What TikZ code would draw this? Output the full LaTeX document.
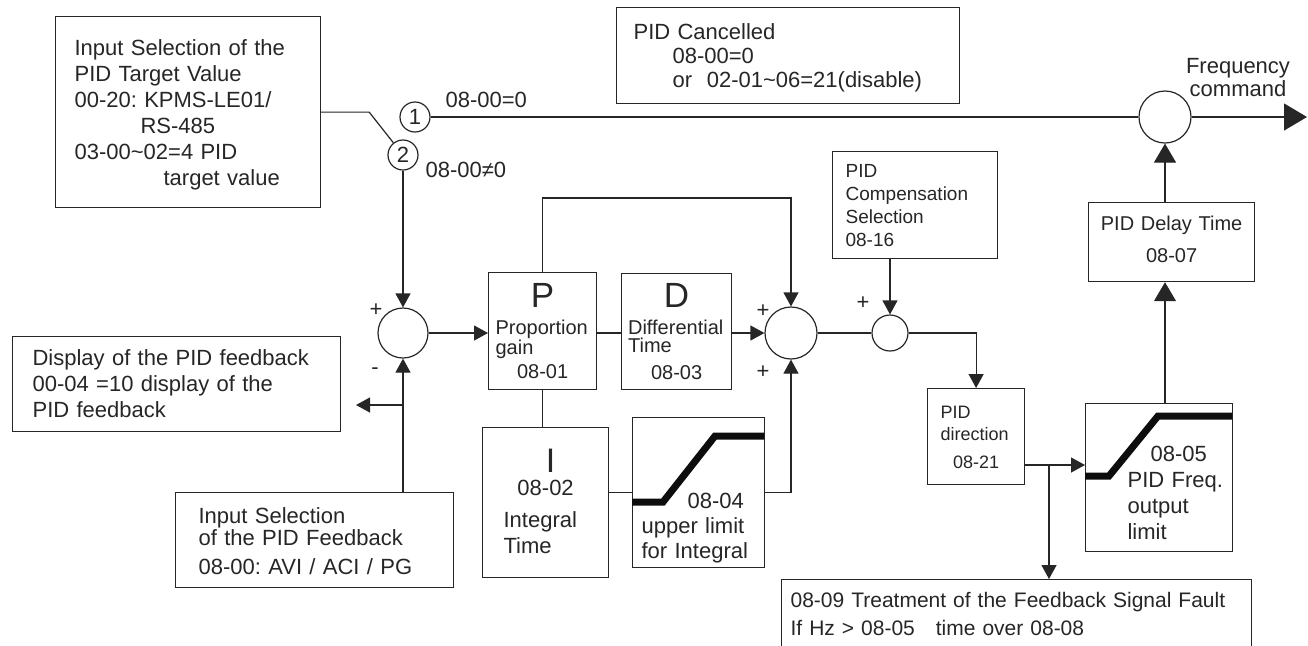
\documentclass[tikz,border=0pt]{standalone}
\usepackage{fontspec}
\setmainfont{Liberation Sans}
\usetikzlibrary{arrows.meta,positioning}
\frenchspacing
\newcommand\tgap[1]{\rule{0pt}{#1}}
\newcommand\bgap[1]{\rule[-#1]{0pt}{#1}}
\newcommand\ctr[1]{\makebox[\linewidth]{#1}}
\begin{document}
\begin{tikzpicture}[x=0.5pt,y=-0.5pt,line width=0.6pt,color=black!85,
 b/.style={draw,anchor=north west,inner ysep=0pt,align=left},
 k/.style={draw,circle,inner sep=0pt,font=\fontsize{11}{11}\selectfont},
 t/.style={inner sep=0pt,font=\fontsize{11}{13}\selectfont},
 lim/.style={line width=3.5pt,black!95},
 big/.style={-{Triangle[length=9.5pt,width=11pt]}},
 >={Triangle[length=7pt,width=7.5pt]}]
\useasboundingbox (0,0) rectangle (1308,645);
\clip (0,0) rectangle (1308,645);
\node[b,font=\fontsize{11}{13}\selectfont,text width=113.5pt,inner xsep=9.5pt] (tgt) at (55,16) {\tgap{19.5pt}Input Selection of the\\PID Target Value\\00-20: KPMS-LE01/\\\hspace*{33pt}RS-485\\03-00\textasciitilde 02=4 PID\\\hspace*{44.5pt}target value\bgap{11pt}};
\node[b,font=\fontsize{11}{12}\selectfont,text width=154.5pt,inner xsep=8.5pt] (cnl) at (616,7) {\tgap{16pt}PID Cancelled\\\hspace*{19.5pt}08-00=0\\\hspace*{19.5pt}or\ \ 02-01\textasciitilde 06=21(disable)\bgap{8pt}};
\node[b,font=\fontsize{9.5}{11.5}\selectfont,text width=69.5pt,inner xsep=6.5pt] (cmp) at (832,151) {\tgap{13pt}PID\\Compensation\\Selection\\08-16\bgap{6pt}};
\node[b,font=\fontsize{10}{10}\selectfont,text width=47pt,inner xsep=3.5pt] (p) at (488,272) {\tgap{17.5pt}\ctr{\fontsize{17.5}{17.5}\selectfont P}\\[3.5pt]Proportion\\gain\\[2pt]\ctr{08-01}\bgap{5.5pt}};
\node[b,font=\fontsize{10}{10}\selectfont,text width=48.5pt,inner xsep=3.25pt] (d) at (621,273) {\tgap{17pt}\ctr{\fontsize{17.5}{17.5}\selectfont D}\\[3.5pt]Differential\\[-1pt]Time\\[3.5pt]\ctr{08-03}\bgap{5pt}};
\node[b,font=\fontsize{11}{11.5}\selectfont,text width=42pt,inner xsep=10.5pt] (i) at (482,427) {\tgap{22.5pt}\ctr{\hspace{5pt}\fontsize{17}{17}\selectfont I}\\\ctr{08-02}\\[4.5pt]Integral\\[1.5pt]Time\bgap{12pt}};
\node[b,font=\fontsize{11}{12.5}\selectfont,text width=57pt,inner xsep=4.5pt] (lm) at (632,417) {\tgap{45.5pt}\hspace*{23pt}08-04\\upper limit\\for Integral\bgap{4.5pt}};
\draw[lim] (632,502) -- (663,502) -- (715,436) -- (764,436);
\node[b,font=\fontsize{9}{11}\selectfont,text width=35.5pt,inner xsep=6.5pt] (dir) at (927,388) {\tgap{15pt}PID\\direction\\[3pt]\ctr{08-21}\bgap{8pt}};
\node[b,font=\fontsize{11}{13}\selectfont,text width=67.5pt,inner xsep=3pt] (ol) at (1085,403) {\tgap{29pt}\hspace*{29.5pt}08-05\\\hspace*{18pt}PID Freq.\\\hspace*{18pt}output\\\hspace*{18pt}limit\bgap{6pt}};
\draw[lim] (1085,476) -- (1109,476) -- (1158,416) -- (1232,416);
\node[b,font=\fontsize{10}{16}\selectfont,text width=77pt,inner xsep=3pt,align=center] (dly) at (1088,202) {\tgap{14pt}PID Delay Time\\08-07\bgap{9.5pt}};
\node[b,font=\fontsize{10.5}{14}\selectfont,text width=226pt,inner xsep=4.5pt] (flt) at (781,579) {\tgap{14pt}08-09 Treatment of the Feedback Signal Fault\\If Hz > 08-05\quad time over 08-08\bgap{10pt}};
\node[b,font=\fontsize{11}{13}\selectfont,text width=144pt,inner xsep=10pt] (dsp) at (12,336) {\tgap{14.5pt}Display of the PID feedback\\00-04 =10 display of the\\PID feedback\bgap{7pt}};
\node[b,font=\fontsize{11}{11}\selectfont,text width=116pt,inner xsep=11.5pt] (fb) at (175,492) {\tgap{15.5pt}Input Selection\\of the PID Feedback\\[3.5pt]08-00: AVI / ACI / PG\bgap{6.5pt}};
\node[k,minimum size=15pt] (c1) at (415,117) {1};
\node[k,minimum size=15pt] (c2) at (403,155) {2};
\node[k,minimum size=25pt] (s1) at (403,333) {};
\node[k,minimum size=26pt] (s2) at (791,333) {};
\node[k,minimum size=18pt] (s3) at (890,333) {};
\node[k,minimum size=26pt] (fc) at (1165,117) {};
\node[t,anchor=base west] (l0) at (445,107) {08-00=0};
\node[t,anchor=base west] (l1) at (425,177) {08-00≠0};
\node[t,text width=60pt,align=center,anchor=base,font=\fontsize{11}{11.5}\selectfont] (fq) at (1238,73) {Frequency\\command};
\node[t] (p1) at (376,310) {+};
\node[t] (m1) at (375,371) {-};
\node[t] (p2) at (763,311) {+};
\node[t] (p3) at (763,372) {+};
\node[t] (p4) at (863,303) {+};
\coordinate (out) at (1307,117);
\coordinate (tap) at (403,405);
\coordinate (dout) at (356,405);
\coordinate (sp) at (1049,465);
\draw (tgt.east) -- ++(48,0) -- (c2);
\draw (c1) -- (fc);
\draw[-{Triangle[length=11.5pt,width=13.5pt]}] (fc) -- (out);
\draw[->] (c2) -- (s1);
\draw[->] (fb.north -| s1) -- (s1);
\draw[->] (tap) -- (dout);
\draw[->] (s1) -- (s1 -| p.west);
\draw (p.east |- s1) -- (d.west |- s1);
\draw[->] (d.east |- s2) -- (s2);
\draw[->] (p.north) -- ++(0,-74) -| (s2);
\draw (p.south) -- (p.south |- i.north);
\draw (i.east |- lm.west) -- (lm.west);
\draw[->] (lm.east) -| (s2);
\draw (s2) -- (s3);
\draw[->] (cmp.south -| s3) -- (s3);
\draw[->] (s3) -| (dir.north);
\draw (dir.east |- sp) -- (sp);
\draw[->] (sp) -- (ol.west |- sp);
\draw[->] (sp) -- (sp |- flt.north);
\draw[big] (ol.north -| fc) -- (dly.south -| fc);
\draw[big] (dly.north -| fc) -- (fc);
\end{tikzpicture}
\end{document}
